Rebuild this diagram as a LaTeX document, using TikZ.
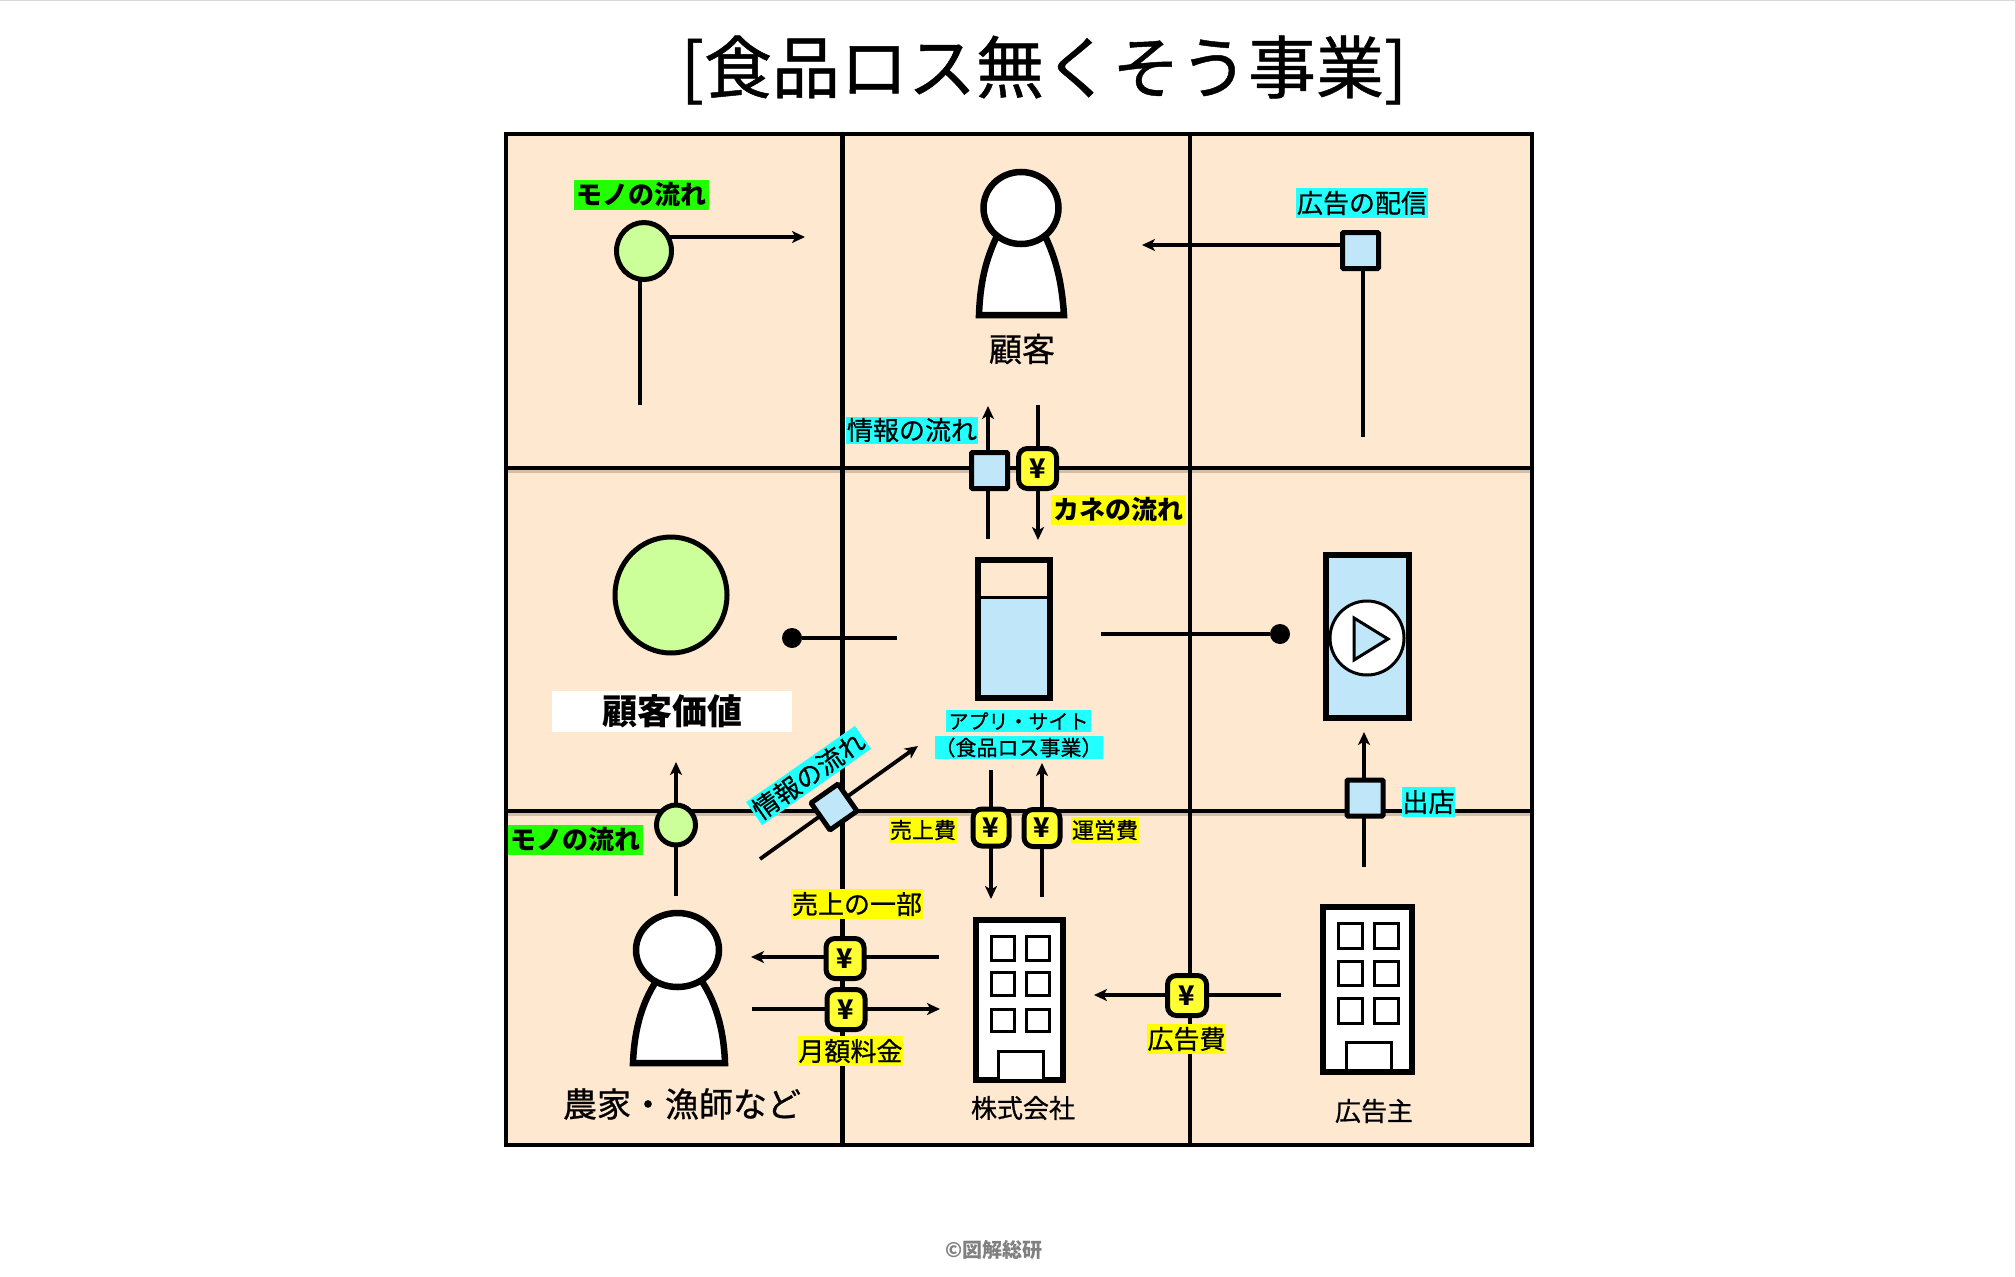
\documentclass[tikz,border=0pt]{standalone}
\usepackage{fontspec}
\setmainfont[FakeBold=0.7]{Noto Sans CJK JP}
\newfontfamily\hvy{Noto Sans CJK JP}
\usetikzlibrary{arrows.meta,shapes.geometric}
\newcommand{\fsz}[1]{\fontsize{#1}{#1}\selectfont}
\definecolor{peach}{HTML}{FEE8CF}
\definecolor{pale}{HTML}{C0E6FA}
\definecolor{lime}{HTML}{CCFF99}
\definecolor{yen}{HTML}{FFFF33}
\definecolor{mk}{HTML}{22FF00}
\definecolor{cy}{HTML}{22FFFF}
\definecolor{ye}{HTML}{FFFF00}
\tikzset{
  gridline/.style={line width=4.4pt,line cap=round},
  shade line/.style={line width=3pt,draw=black!60!peach,opacity=.3},
  link/.style={line width=3.8pt,line cap=butt},
  flow/.style={link,-{Stealth[length=13pt,width=12pt,inset=3.5pt]}},
  tagbase/.style={inner sep=0pt,outer sep=0pt,text=black,align=center,font=\fsz{26}},
  tagg/.style={tagbase,fill=mk,font=\fsz{26}\hvy\bfseries,minimum width=135,minimum height=30},
  tagc/.style={tagbase,fill=cy},
  tagy/.style={tagbase,fill=ye},
  infobox/.style={draw,line width=5pt,fill=pale,rounded corners=1pt,minimum width=36,minimum height=36,inner sep=0pt},
  yenbox/.style={draw,line width=5pt,fill=yen,rounded corners=9pt,minimum width=38,minimum height=40,inner sep=0pt,font=\fsz{27}\hvy\bfseries},
  goods/.style={draw,ellipse,line width=5pt,fill=lime,inner sep=0pt},
  dotend/.style={circle,fill=black,minimum size=20,inner sep=0pt},
  bodyline/.style={line width=6.5pt,fill=white,line join=miter},
  head/.style={draw,ellipse,line width=6.5pt,fill=white,inner sep=0pt},
  tower/.style={draw,line width=6.5pt,fill=white,inner sep=0pt},
  pane/.style={line width=3pt,fill=white},
  caption/.style={inner sep=0pt,text=black}
}
\begin{document}
\begin{tikzpicture}[x=1pt,y=-1pt]
\useasboundingbox (0,0) rectangle (2016,1277);
\fill[white] (0,0) rectangle (2016,1277);
\draw[line width=1pt,black!15] (0,0.5) -- (2016,0.5);
\draw[line width=1pt,black!15] (2015.5,0) -- (2015.5,1277);
\node[inner sep=0pt,font=\fsz{68}] (title) at (1044,70) {[食品ロス無くそう事業]};
% matrix
\fill[peach] (506,134) rectangle (1532,1145);
\draw[shade line] (506,471.5) -- (1532,471.5);
\draw[shade line] (506,814.5) -- (1532,814.5);
\draw[gridline] (506,468) -- (1532,468);
\draw[gridline] (506,811) -- (1532,811);
\draw[gridline] (842.5,134) -- (842.5,1145);
\draw[gridline] (1190,134) -- (1190,1145);
\draw[gridline] (506,134) rectangle (1532,1145);
% free ends
\coordinate (g1s) at (640,405); \coordinate (g1m) at (640,251);
\coordinate (g1a) at (660,237); \coordinate (g1e) at (805,237);
\coordinate (d1a) at (1363,437); \coordinate (d1m) at (1363,245);
\coordinate (d1e) at (1142,245);
\coordinate (i1s) at (988,539); \coordinate (i1e) at (988,406);
\coordinate (m1s) at (1038,405); \coordinate (m1e) at (1038,540);
\coordinate (v1s) at (897,638);
\coordinate (v2s) at (1101,634);
\coordinate (o1s) at (1364,867); \coordinate (o1e) at (1364,732);
\coordinate (g2s) at (676,896); \coordinate (g2e) at (676,762);
\coordinate (i2s) at (760,859); \coordinate (i2e) at (918,746);
\coordinate (m2s) at (991,770); \coordinate (m2e) at (991,899);
\coordinate (m3s) at (1042,897); \coordinate (m3e) at (1042,763);
\coordinate (m4s) at (939,957); \coordinate (m4e) at (751,957);
\coordinate (m5s) at (752,1009); \coordinate (m5e) at (940,1009);
\coordinate (m6s) at (1281,995); \coordinate (m6e) at (1094,995);
% connectors
\draw[link] (g1s) -- (g1m);
\draw[flow] (g1a) -- (g1e);
\draw[link] (d1a) -- (d1m);
\draw[flow] (d1m) -- (d1e);
\draw[flow] (i1s) -- (i1e);
\draw[flow] (m1s) -- (m1e);
\draw[flow] (o1s) -- (o1e);
\draw[flow] (g2s) -- (g2e);
\draw[flow] (i2s) -- (i2e);
\draw[flow] (m2s) -- (m2e);
\draw[flow] (m3s) -- (m3e);
\draw[flow] (m4s) -- (m4e);
\draw[flow] (m5s) -- (m5e);
\draw[flow] (m6s) -- (m6e);
% top row
\node[tagg] (lg1) at (641,195) {モノの流れ};
\node[goods,minimum width=55,minimum height=57] (ng1) at (644,251) {};
\draw[bodyline] (979,315) .. controls (980,285) and (985,260) .. (998,234) -- (1044,234) .. controls (1057,260) and (1062,285) .. (1064,315) -- cycle;
\node[head,minimum width=75,minimum height=72] (h1) at (1021,208) {};
\node[caption,font=\fsz{33}] (l1) at (1022,349) {顧客};
\node[tagc,minimum width=132,minimum height=30] (ld) at (1362,203) {広告の配信};
\node[infobox] (nd) at (1360.5,250.5) {};
\node[tagc,minimum width=132,minimum height=27] (li) at (912,430) {情報の流れ};
\node[infobox] (ni) at (989.5,470.5) {};
\node[yenbox] (ny1) at (1037.5,468.5) {¥};
\node[tagy,font=\fsz{26}\hvy\bfseries,minimum width=135,minimum height=30] (lm) at (1118.5,510) {カネの流れ};
% middle row
\node[goods,minimum width=112,minimum height=116] (val) at (671,595) {};
\node[fill=white,inner sep=0pt,minimum width=240,minimum height=41,font=\fsz{35}\hvy\bfseries] (lval) at (672,711) {顧客価値};
\node[dotend] (dl) at (792,638) {};
\draw[link] (v1s) -- (dl);
\node[dotend] (dr) at (1280,634) {};
\draw[link] (v2s) -- (dr);
\fill[pale] (975,597) rectangle (1053,701);
\draw[line width=3pt] (975,597) -- (1053,597);
\node[draw,line width=6.5pt,minimum width=72,minimum height=138,inner sep=0pt] (app) at (1014,629) {};
\node[tagc,font=\fsz{20},minimum width=145,minimum height=22] (la1) at (1018.5,721) {アプリ・サイト};
\node[tagc,font=\fsz{21},minimum width=167,minimum height=23] (la2) at (1018.5,747.5) {（食品ロス事業）};
\node[draw,line width=6.5pt,fill=pale,minimum width=83,minimum height=163,inner sep=0pt] (ph) at (1367.5,636.5) {};
\node[draw,circle,line width=3pt,fill=white,minimum size=74,inner sep=0pt] (pl) at (1367,638) {};
\draw[line width=3pt,fill=pale,line join=miter] (1354,618) -- (1388,639) -- (1354,660) -- cycle;
\node[infobox] (no) at (1365,798) {};
\node[tagc,minimum width=53,minimum height=30] (lo) at (1428.5,802) {出店};
\node[goods,minimum width=39,minimum height=40] (ng2) at (676,825) {};
\node[tagg] (lg2) at (575.5,840) {モノの流れ};
\node[tagc,rotate=35,minimum width=133,minimum height=28] (li2) at (808.5,775.5) {情報の流れ};
\node[infobox,rotate=35,minimum width=33,minimum height=33] (ni2) at (834,807) {};
\node[yenbox,minimum width=36,minimum height=37] (ny2) at (991,827.5) {¥};
\node[yenbox,minimum width=36,minimum height=37] (ny3) at (1042,828) {¥};
\node[tagy,font=\fsz{22},minimum width=68,minimum height=26] (ls) at (923,830) {売上費};
\node[tagy,font=\fsz{22},minimum width=68,minimum height=26] (lu) at (1105,830) {運営費};
% bottom row
\node[tagy,minimum width=132,minimum height=30] (lp) at (857,904) {売上の一部};
\node[yenbox] (ny4) at (845,958.5) {¥};
\node[yenbox] (ny5) at (846,1009.5) {¥};
\node[tagy,minimum width=105,minimum height=30] (lf) at (850.5,1051) {月額料金};
\draw[bodyline] (633,1063) .. controls (634,1035) and (640,1005) .. (657,980) -- (701,980) .. controls (718,1005) and (724,1035) .. (725,1063) -- cycle;
\node[head,minimum width=83,minimum height=74] (h2) at (677.5,950) {};
\node[caption,font=\fsz{34}] (l2) at (682,1104) {農家・漁師など};
% company building
\node[tower,minimum width=87,minimum height=160] (b1) at (1019.5,1000) {};
\draw[pane] (991.5,936.5) rectangle (1014.5,960.5);
\draw[pane] (1026.5,936.5) rectangle (1049.5,960.5);
\draw[pane] (991.5,972.5) rectangle (1014.5,995.5);
\draw[pane] (1026.5,972.5) rectangle (1049.5,995.5);
\draw[pane] (991.5,1009.5) rectangle (1014.5,1031.5);
\draw[pane] (1026.5,1009.5) rectangle (1049.5,1031.5);
\draw[pane] (998.5,1079) -- (998.5,1051.5) -- (1043,1051.5) -- (1043,1079);
\node[caption,font=\fsz{26}] (l3) at (1023,1108) {株式会社};
\node[yenbox,minimum width=39] (ny6) at (1187,995.5) {¥};
\node[tagy,minimum width=79,minimum height=30] (la) at (1186.5,1039) {広告費};
% advertiser building
\node[tower,minimum width=89,minimum height=165] (b2) at (1367.5,989.5) {};
\draw[pane] (1338.5,923.5) rectangle (1362,948.5);
\draw[pane] (1374.5,923.5) rectangle (1398,948.5);
\draw[pane] (1338.5,961.5) rectangle (1362,985.5);
\draw[pane] (1374.5,961.5) rectangle (1398,985.5);
\draw[pane] (1338.5,998.5) rectangle (1362,1023.5);
\draw[pane] (1374.5,998.5) rectangle (1398,1023.5);
\draw[pane] (1346,1069) -- (1346,1042.5) -- (1391,1042.5) -- (1391,1069);
\node[caption,font=\fsz{26}] (l4) at (1374,1111) {広告主};
\node[inner sep=0pt,text=black!50,font=\fsz{20}\hvy\bfseries] (cr) at (994,1250) {©図解総研};
\end{tikzpicture}
\end{document}
